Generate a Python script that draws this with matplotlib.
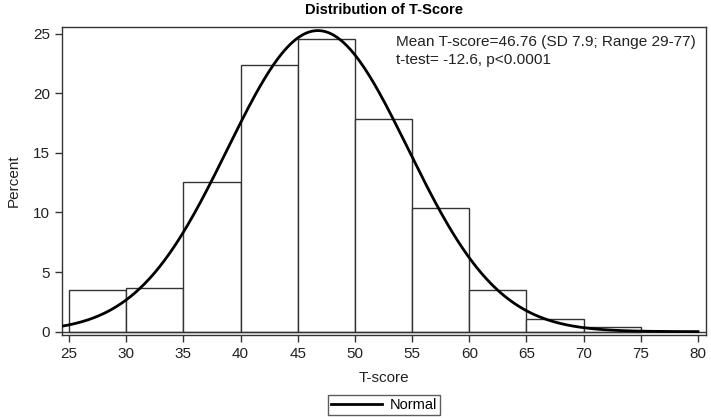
import numpy as np
import matplotlib.pyplot as plt
from matplotlib.lines import Line2D

plt.rcParams['font.family'] = ['Liberation Sans', 'DejaVu Sans']

bin_left = [25, 30, 35, 40, 45, 50, 55, 60, 65, 70]
bin_width = 5
percent = [3.46, 3.68, 12.55, 22.38, 24.52, 17.86, 10.33, 3.46, 1.04, 0.4]

mean_t = 46.76
sd_t = 7.9
x_ticks = [25, 30, 35, 40, 45, 50, 55, 60, 65, 70, 75, 80]
y_ticks = [0, 5, 10, 15, 20, 25]

fig = plt.figure(figsize=(7.11, 4.18), dpi=100)
ax = fig.add_axes([62 / 711, 1 - 335 / 418, 644 / 711, 308 / 418])

ax.bar(bin_left, percent, width=bin_width, align='edge', facecolor='white',
       edgecolor='#333333', linewidth=1.0, zorder=2)
ax.axhline(0, color='#333333', linewidth=1.0, zorder=2)

# fitted normal curve, scaled to percent per bin
xs = np.linspace(24.4, 80, 400)
ys = 100 * bin_width * np.exp(-0.5 * ((xs - mean_t) / sd_t) ** 2) / (sd_t * np.sqrt(2 * np.pi))
ax.plot(xs, ys, color='black', linewidth=2.0, zorder=3)

ax.set_xlim(24.39, 80.7)
ax.set_ylim(-0.28, 25.55)
ax.set_xticks(x_ticks)
ax.set_yticks(y_ticks)
ax.tick_params(labelsize=11, length=5, width=1, color='#333333', labelcolor='#222222')
for sp in ax.spines.values():
    sp.set_color('#333333')
    sp.set_linewidth(1.0)

ax.set_xlabel("T-score", fontsize=11, labelpad=7, color='#222222')
ax.set_ylabel("Percent", fontsize=11, labelpad=9, color='#222222')
ax.set_title("Distribution of T-Score", fontsize=10.5, fontweight='bold', pad=9)

ax.text(0.518, 0.975, "Mean T-score=46.76 (SD 7.9; Range 29-77)\nt-test= -12.6, p<0.0001",
        transform=ax.transAxes, ha='left', va='top', fontsize=11.1, linespacing=1.35,
        color='#222222')

handle = Line2D([], [], color='black', linewidth=2.0)
fig.legend([handle], ["Normal"], loc='center', bbox_to_anchor=(384 / 711, 1 - 405 / 418),
           frameon=True, fancybox=False, edgecolor='#333333', fontsize=10.5,
           handlelength=3.5, borderpad=0.2, handletextpad=0.5, borderaxespad=0)

fig.savefig("out.png", dpi=100)
